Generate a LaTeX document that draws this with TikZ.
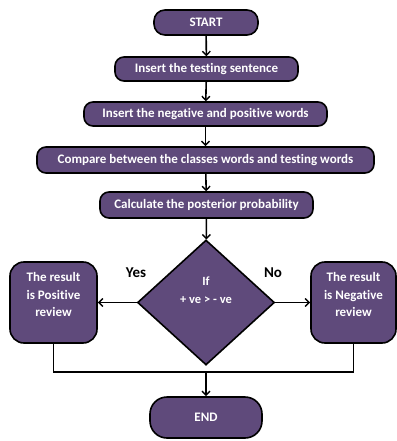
\documentclass[tikz,border=0pt]{standalone}
\usepackage{fontspec}
\setmainfont{Carlito}[Ligatures=NoCommon]
\usetikzlibrary{shapes.geometric,arrows.meta}
\definecolor{boxfill}{HTML}{5F4A7B}
\begin{document}
\begin{tikzpicture}[x=1pt,y=-1pt,
  box/.style={draw=black, line width=1.6pt, fill=boxfill, text=white,
    font=\bfseries\fontsize{13}{15}\selectfont, rounded corners=9pt, inner sep=0pt, align=center},
  side/.style={box, minimum height=81pt, rounded corners=14pt, font=\bfseries\fontsize{13}{17.5}\selectfont},
  arr/.style={-{Straight Barb[length=4pt,width=8pt,line width=1.4pt]}, line width=1.6pt},
  lbl/.style={font=\bfseries\fontsize{15}{17}\selectfont}]
\useasboundingbox (0,0) rectangle (396,441);
\node[box, minimum width=104pt, minimum height=25pt, rounded corners=11pt] (start) at (206,22.5) {START};
\node[box, minimum width=183pt, minimum height=24pt] (ins1) at (206.5,69) {Insert the testing sentence};
\node[box, minimum width=243pt, minimum height=24pt] (ins2) at (205.5,114) {Insert the negative and positive words};
\node[box, minimum width=337pt, minimum height=26pt] (cmp) at (205.5,160) {Compare between the classes words and testing words};
\node[box, minimum width=213pt, minimum height=26pt] (calc) at (206.5,205) {Calculate the posterior probability};
\node[box, shape=diamond, rounded corners=0pt, minimum width=137pt, minimum height=125pt, font=\bfseries\fontsize{12.5}{18}\selectfont] (dec) at (206,302.5) {If\\+ ve > - ve\\[6pt]\mbox{}};
\node[side, minimum width=87pt] (pos) at (53.5,302.5) {The result\\is Positive\\review\\[-2pt]\mbox{}};
\node[side, minimum width=85pt] (neg) at (353.5,302.5) {The result\\is Negative\\review\\[-2pt]\mbox{}};
\node[box, minimum width=112pt, minimum height=41pt, rounded corners=17pt] (end) at (206,417.5) {END};
\node[lbl] (yes) at (136,273) {Yes};
\node[lbl] (no) at (273,273) {No};
\coordinate (j) at (206,372);
\draw[arr] (start) -- (ins1);
\draw[arr] (ins1) -- (ins2);
\draw[arr] (ins2) -- (cmp);
\draw[arr] (cmp) -- (calc);
\draw[arr] (calc) -- (dec);
\draw[arr] (dec) -- (pos);
\draw[arr] (dec) -- (neg);
\draw[line width=1.6pt] (pos.south) |- (j) -| (neg.south);
\draw[arr] (j) -- (end);
\end{tikzpicture}
\end{document}
